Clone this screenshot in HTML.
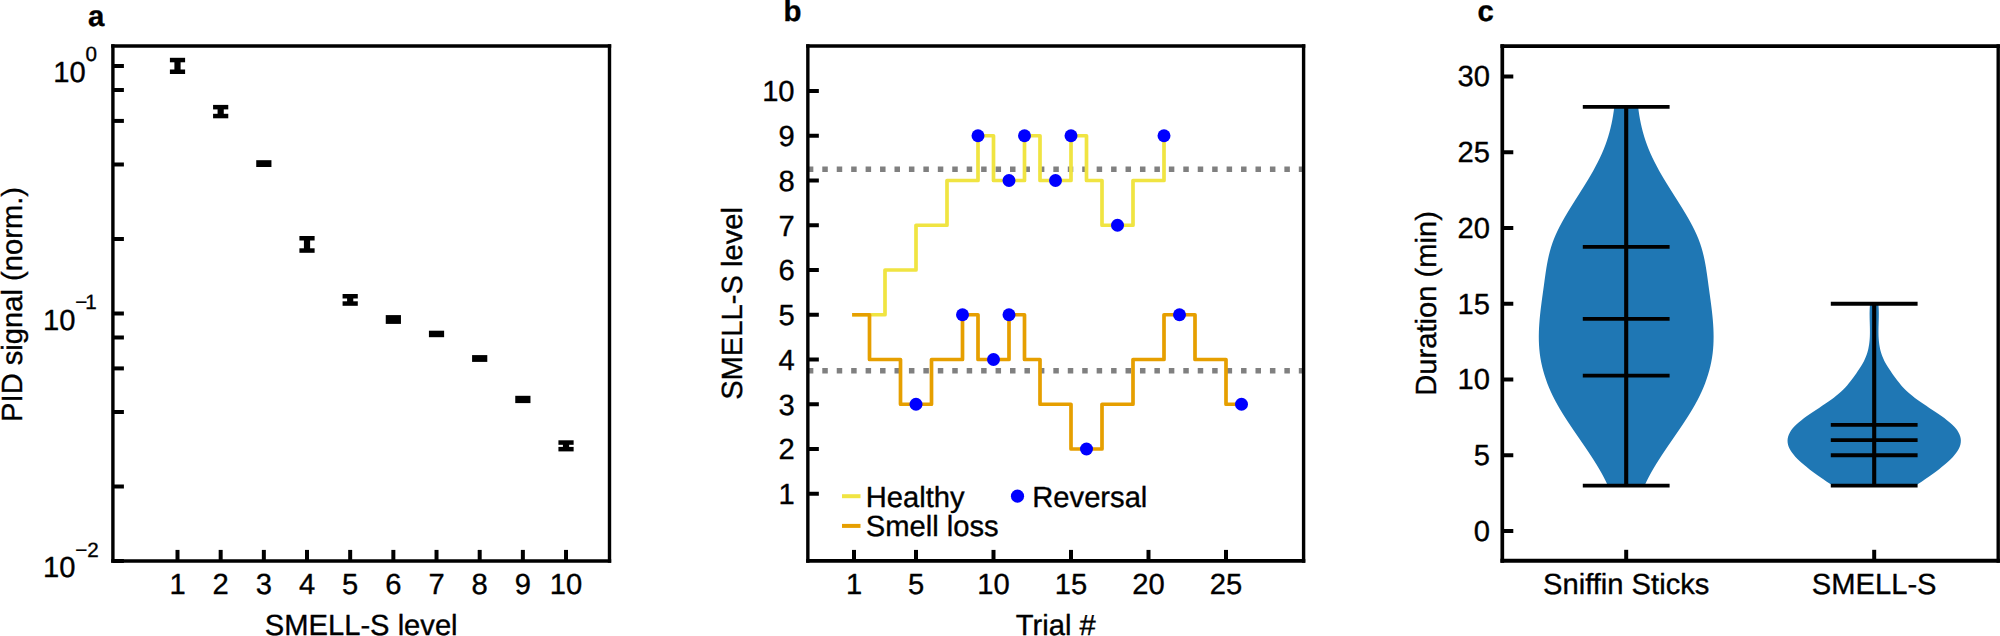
<!DOCTYPE html>
<html lang="en">
<head>
<meta charset="utf-8">
<title>SMELL-S figure</title>
<style>
html,body{margin:0;padding:0;background:#fff;}
body{width:2000px;height:636px;overflow:hidden;}
svg{display:block;}
svg text{font-family:"Liberation Sans",Arial,Helvetica,sans-serif;fill:#000;stroke:#000;stroke-width:0.35px;stroke-linejoin:round;text-rendering:geometricPrecision;}
</style>
</head>
<body>
<svg width="2000" height="636" viewBox="0 0 2000 636">
<rect x="0" y="0" width="2000" height="636" fill="#fff"/>
<g id="panel-a">
<text x="88" y="25.5" font-size="29.4" text-anchor="start" font-weight="bold">a</text>
<line x1="112.9" y1="66" x2="123.9" y2="66" stroke="#000" stroke-width="4"/>
<line x1="112.9" y1="89.99" x2="123.9" y2="89.99" stroke="#000" stroke-width="4"/>
<line x1="112.9" y1="120.91" x2="123.9" y2="120.91" stroke="#000" stroke-width="4"/>
<line x1="112.9" y1="164.49" x2="123.9" y2="164.49" stroke="#000" stroke-width="4"/>
<line x1="112.9" y1="239" x2="123.9" y2="239" stroke="#000" stroke-width="4"/>
<line x1="112.9" y1="313.5" x2="123.9" y2="313.5" stroke="#000" stroke-width="4"/>
<line x1="112.9" y1="337.49" x2="123.9" y2="337.49" stroke="#000" stroke-width="4"/>
<line x1="112.9" y1="368.41" x2="123.9" y2="368.41" stroke="#000" stroke-width="4"/>
<line x1="112.9" y1="411.99" x2="123.9" y2="411.99" stroke="#000" stroke-width="4"/>
<line x1="112.9" y1="486.5" x2="123.9" y2="486.5" stroke="#000" stroke-width="4"/>
<line x1="112.9" y1="561" x2="123.9" y2="561" stroke="#000" stroke-width="4"/>
<line x1="177.5" y1="560.9" x2="177.5" y2="549.9" stroke="#000" stroke-width="4"/>
<text x="177.5" y="594.2" font-size="29.17" text-anchor="middle">1</text>
<line x1="220.67" y1="560.9" x2="220.67" y2="549.9" stroke="#000" stroke-width="4"/>
<text x="220.67" y="594.2" font-size="29.17" text-anchor="middle">2</text>
<line x1="263.84" y1="560.9" x2="263.84" y2="549.9" stroke="#000" stroke-width="4"/>
<text x="263.84" y="594.2" font-size="29.17" text-anchor="middle">3</text>
<line x1="307.01" y1="560.9" x2="307.01" y2="549.9" stroke="#000" stroke-width="4"/>
<text x="307.01" y="594.2" font-size="29.17" text-anchor="middle">4</text>
<line x1="350.18" y1="560.9" x2="350.18" y2="549.9" stroke="#000" stroke-width="4"/>
<text x="350.18" y="594.2" font-size="29.17" text-anchor="middle">5</text>
<line x1="393.35" y1="560.9" x2="393.35" y2="549.9" stroke="#000" stroke-width="4"/>
<text x="393.35" y="594.2" font-size="29.17" text-anchor="middle">6</text>
<line x1="436.52" y1="560.9" x2="436.52" y2="549.9" stroke="#000" stroke-width="4"/>
<text x="436.52" y="594.2" font-size="29.17" text-anchor="middle">7</text>
<line x1="479.69" y1="560.9" x2="479.69" y2="549.9" stroke="#000" stroke-width="4"/>
<text x="479.69" y="594.2" font-size="29.17" text-anchor="middle">8</text>
<line x1="522.86" y1="560.9" x2="522.86" y2="549.9" stroke="#000" stroke-width="4"/>
<text x="522.86" y="594.2" font-size="29.17" text-anchor="middle">9</text>
<line x1="566.03" y1="560.9" x2="566.03" y2="549.9" stroke="#000" stroke-width="4"/>
<text x="566.03" y="594.2" font-size="29.17" text-anchor="middle">10</text>
<line x1="177.5" y1="60.05" x2="177.5" y2="71.75" stroke="#000" stroke-width="6.2"/>
<rect x="169.9" y="57.8" width="15.2" height="4.5" fill="#000"/>
<rect x="169.9" y="69.5" width="15.2" height="4.5" fill="#000"/>
<line x1="220.67" y1="107.15" x2="220.67" y2="116.05" stroke="#000" stroke-width="6.2"/>
<rect x="213.07" y="104.9" width="15.2" height="4.5" fill="#000"/>
<rect x="213.07" y="113.8" width="15.2" height="4.5" fill="#000"/>
<rect x="256.24" y="160.2" width="15.2" height="6.8" fill="#000"/>
<line x1="307.01" y1="238.25" x2="307.01" y2="250.55" stroke="#000" stroke-width="6.2"/>
<rect x="299.41" y="236" width="15.2" height="4.5" fill="#000"/>
<rect x="299.41" y="248.3" width="15.2" height="4.5" fill="#000"/>
<line x1="350.18" y1="296.25" x2="350.18" y2="303.55" stroke="#000" stroke-width="6.2"/>
<rect x="342.58" y="294" width="15.2" height="4.5" fill="#000"/>
<rect x="342.58" y="301.3" width="15.2" height="4.5" fill="#000"/>
<rect x="385.75" y="315.1" width="15.2" height="8.8" fill="#000"/>
<rect x="428.92" y="330.7" width="15.2" height="6.5" fill="#000"/>
<rect x="472.09" y="355.1" width="15.2" height="6.8" fill="#000"/>
<rect x="515.26" y="395.8" width="15.2" height="7.3" fill="#000"/>
<line x1="566.03" y1="442.55" x2="566.03" y2="449.15" stroke="#000" stroke-width="6.2"/>
<rect x="558.43" y="440.3" width="15.2" height="4.5" fill="#000"/>
<rect x="558.43" y="446.9" width="15.2" height="4.5" fill="#000"/>
<line x1="112.9" y1="44.3" x2="112.9" y2="562.65" stroke="#000" stroke-width="3.4"/>
<line x1="609.5" y1="44.3" x2="609.5" y2="562.65" stroke="#000" stroke-width="3.4"/>
<line x1="111.2" y1="46" x2="611.2" y2="46" stroke="#000" stroke-width="3.4"/>
<line x1="111.2" y1="560.9" x2="611.2" y2="560.9" stroke="#000" stroke-width="3.5"/>
<text x="85.7" y="82.1" font-size="29.17" text-anchor="end">10</text>
<text x="85.4" y="61.1" font-size="20.6" text-anchor="start">0</text>
<text x="75.4" y="329.6" font-size="29.17" text-anchor="end">10</text>
<text x="75.2" y="309" font-size="20.6" text-anchor="start">−<tspan dx="-2">1</tspan></text>
<text x="75.4" y="577.1" font-size="29.17" text-anchor="end">10</text>
<text x="75.2" y="556.5" font-size="20.6" text-anchor="start">−<tspan dx="0">2</tspan></text>
<text x="361.2" y="635.4" font-size="29.17" text-anchor="middle">SMELL-S level</text>
<text x="21.9" y="304.45" font-size="29.17" text-anchor="middle" transform="rotate(-90 21.9 304.45)">PID signal (norm.)</text>
</g>
<g id="panel-b">
<text x="783.5" y="21.3" font-size="29.4" text-anchor="start" font-weight="bold">b</text>
<line x1="807.85" y1="493.75" x2="818.85" y2="493.75" stroke="#000" stroke-width="4"/>
<text x="794.6" y="504.05" font-size="29.17" text-anchor="end">1</text>
<line x1="807.85" y1="449" x2="818.85" y2="449" stroke="#000" stroke-width="4"/>
<text x="794.6" y="459.3" font-size="29.17" text-anchor="end">2</text>
<line x1="807.85" y1="404.25" x2="818.85" y2="404.25" stroke="#000" stroke-width="4"/>
<text x="794.6" y="414.55" font-size="29.17" text-anchor="end">3</text>
<line x1="807.85" y1="359.5" x2="818.85" y2="359.5" stroke="#000" stroke-width="4"/>
<text x="794.6" y="369.8" font-size="29.17" text-anchor="end">4</text>
<line x1="807.85" y1="314.75" x2="818.85" y2="314.75" stroke="#000" stroke-width="4"/>
<text x="794.6" y="325.05" font-size="29.17" text-anchor="end">5</text>
<line x1="807.85" y1="270" x2="818.85" y2="270" stroke="#000" stroke-width="4"/>
<text x="794.6" y="280.3" font-size="29.17" text-anchor="end">6</text>
<line x1="807.85" y1="225.25" x2="818.85" y2="225.25" stroke="#000" stroke-width="4"/>
<text x="794.6" y="235.55" font-size="29.17" text-anchor="end">7</text>
<line x1="807.85" y1="180.5" x2="818.85" y2="180.5" stroke="#000" stroke-width="4"/>
<text x="794.6" y="190.8" font-size="29.17" text-anchor="end">8</text>
<line x1="807.85" y1="135.75" x2="818.85" y2="135.75" stroke="#000" stroke-width="4"/>
<text x="794.6" y="146.05" font-size="29.17" text-anchor="end">9</text>
<line x1="807.85" y1="91" x2="818.85" y2="91" stroke="#000" stroke-width="4"/>
<text x="794.6" y="101.3" font-size="29.17" text-anchor="end">10</text>
<line x1="854" y1="560.9" x2="854" y2="549.9" stroke="#000" stroke-width="4"/>
<text x="854" y="594.2" font-size="29.17" text-anchor="middle">1</text>
<line x1="916" y1="560.9" x2="916" y2="549.9" stroke="#000" stroke-width="4"/>
<text x="916" y="594.2" font-size="29.17" text-anchor="middle">5</text>
<line x1="993.5" y1="560.9" x2="993.5" y2="549.9" stroke="#000" stroke-width="4"/>
<text x="993.5" y="594.2" font-size="29.17" text-anchor="middle">10</text>
<line x1="1071" y1="560.9" x2="1071" y2="549.9" stroke="#000" stroke-width="4"/>
<text x="1071" y="594.2" font-size="29.17" text-anchor="middle">15</text>
<line x1="1148.5" y1="560.9" x2="1148.5" y2="549.9" stroke="#000" stroke-width="4"/>
<text x="1148.5" y="594.2" font-size="29.17" text-anchor="middle">20</text>
<line x1="1226" y1="560.9" x2="1226" y2="549.9" stroke="#000" stroke-width="4"/>
<text x="1226" y="594.2" font-size="29.17" text-anchor="middle">25</text>
<line x1="807.85" y1="169.31" x2="1303.6" y2="169.31" stroke="#808080" stroke-width="5.5" stroke-dasharray="5.5 8.94"/>
<line x1="807.85" y1="370.69" x2="1303.6" y2="370.69" stroke="#808080" stroke-width="5.5" stroke-dasharray="5.5 8.94"/>
<path d="M854 314.75 L869.5 314.75 L885 314.75 L885 270 L900.5 270 L916 270 L916 225.25 L931.5 225.25 L947 225.25 L947 180.5 L962.5 180.5 L978 180.5 L978 135.75 L993.5 135.75 L993.5 180.5 L1009 180.5 L1024.5 180.5 L1024.5 135.75 L1040 135.75 L1040 180.5 L1055.5 180.5 L1071 180.5 L1071 135.75 L1086.5 135.75 L1086.5 180.5 L1102 180.5 L1102 225.25 L1117.5 225.25 L1133 225.25 L1133 180.5 L1148.5 180.5 L1164 180.5 L1164 135.75" fill="none" stroke="#F0E442" stroke-width="3.7" stroke-linejoin="round" stroke-linecap="square"/>
<path d="M854 314.75 L869.5 314.75 L869.5 359.5 L885 359.5 L900.5 359.5 L900.5 404.25 L916 404.25 L931.5 404.25 L931.5 359.5 L947 359.5 L962.5 359.5 L962.5 314.75 L978 314.75 L978 359.5 L993.5 359.5 L1009 359.5 L1009 314.75 L1024.5 314.75 L1024.5 359.5 L1040 359.5 L1040 404.25 L1055.5 404.25 L1071 404.25 L1071 449 L1086.5 449 L1102 449 L1102 404.25 L1117.5 404.25 L1133 404.25 L1133 359.5 L1148.5 359.5 L1164 359.5 L1164 314.75 L1179.5 314.75 L1195 314.75 L1195 359.5 L1210.5 359.5 L1226 359.5 L1226 404.25 L1241.5 404.25" fill="none" stroke="#E69F00" stroke-width="3.7" stroke-linejoin="round" stroke-linecap="square"/>
<circle cx="978" cy="135.75" r="6.5" fill="#0000FF"/>
<circle cx="1009" cy="180.5" r="6.5" fill="#0000FF"/>
<circle cx="1024.5" cy="135.75" r="6.5" fill="#0000FF"/>
<circle cx="1055.5" cy="180.5" r="6.5" fill="#0000FF"/>
<circle cx="1071" cy="135.75" r="6.5" fill="#0000FF"/>
<circle cx="1117.5" cy="225.25" r="6.5" fill="#0000FF"/>
<circle cx="1164" cy="135.75" r="6.5" fill="#0000FF"/>
<circle cx="916" cy="404.25" r="6.5" fill="#0000FF"/>
<circle cx="962.5" cy="314.75" r="6.5" fill="#0000FF"/>
<circle cx="993.5" cy="359.5" r="6.5" fill="#0000FF"/>
<circle cx="1009" cy="314.75" r="6.5" fill="#0000FF"/>
<circle cx="1086.5" cy="449" r="6.5" fill="#0000FF"/>
<circle cx="1179.5" cy="314.75" r="6.5" fill="#0000FF"/>
<circle cx="1241.5" cy="404.25" r="6.5" fill="#0000FF"/>
<line x1="842" y1="496.2" x2="860.5" y2="496.2" stroke="#F0E442" stroke-width="4"/>
<text x="865.7" y="507" font-size="29.17" text-anchor="start">Healthy</text>
<line x1="842" y1="525.9" x2="860.5" y2="525.9" stroke="#E69F00" stroke-width="4"/>
<text x="865.8" y="536.4" font-size="29.17" text-anchor="start">Smell loss</text>
<circle cx="1017.5" cy="496.2" r="6.6" fill="#0000FF"/>
<text x="1032.3" y="507" font-size="29.17" text-anchor="start">Reversal</text>
<line x1="807.85" y1="44.3" x2="807.85" y2="562.85" stroke="#000" stroke-width="3.4"/>
<line x1="1303.6" y1="44.3" x2="1303.6" y2="562.85" stroke="#000" stroke-width="3.4"/>
<line x1="806.15" y1="46" x2="1305.3" y2="46" stroke="#000" stroke-width="3.4"/>
<line x1="806.15" y1="560.9" x2="1305.3" y2="560.9" stroke="#000" stroke-width="3.9"/>
<text x="1055.72" y="635.4" font-size="29.17" text-anchor="middle">Trial #</text>
<text x="742.5" y="303.45" font-size="29.17" text-anchor="middle" transform="rotate(-90 742.5 303.45)">SMELL-S level</text>
</g>
<g id="panel-c">
<text x="1477.5" y="20.8" font-size="29.4" text-anchor="start" font-weight="bold">c</text>
<path d="M1614.29 106.8 L1613.75 111.06 L1613.12 115.31 L1612.38 119.57 L1611.52 123.82 L1610.55 128.08 L1609.45 132.33 L1608.23 136.59 L1606.86 140.84 L1605.36 145.1 L1603.71 149.35 L1601.91 153.61 L1599.95 157.86 L1597.85 162.12 L1595.61 166.37 L1593.26 170.63 L1590.81 174.88 L1588.29 179.14 L1585.69 183.39 L1583.05 187.65 L1580.37 191.9 L1577.68 196.16 L1574.99 200.41 L1572.32 204.67 L1569.68 208.92 L1567.11 213.18 L1564.61 217.43 L1562.22 221.69 L1559.94 225.94 L1557.81 230.2 L1555.83 234.45 L1554.03 238.71 L1552.44 242.96 L1551.04 247.22 L1549.83 251.47 L1548.76 255.73 L1547.84 259.98 L1547.02 264.24 L1546.3 268.49 L1545.65 272.75 L1545.04 277 L1544.46 281.26 L1543.89 285.51 L1543.3 289.77 L1542.71 294.02 L1542.12 298.28 L1541.55 302.53 L1541 306.79 L1540.49 311.04 L1540.03 315.3 L1539.62 319.55 L1539.29 323.81 L1539.03 328.06 L1538.87 332.32 L1538.8 336.57 L1538.85 340.83 L1539.02 345.08 L1539.33 349.34 L1539.77 353.59 L1540.37 357.85 L1541.14 362.1 L1542.06 366.36 L1543.15 370.61 L1544.39 374.87 L1545.79 379.12 L1547.35 383.38 L1549.06 387.63 L1550.93 391.89 L1552.94 396.14 L1555.11 400.4 L1557.43 404.65 L1559.88 408.91 L1562.45 413.16 L1565.12 417.42 L1567.88 421.67 L1570.71 425.93 L1573.58 430.18 L1576.49 434.44 L1579.42 438.69 L1582.34 442.95 L1585.25 447.2 L1588.12 451.46 L1590.94 455.71 L1593.69 459.97 L1596.35 464.22 L1598.91 468.48 L1601.35 472.73 L1603.65 476.99 L1605.8 481.24 L1607.77 485.5 L1644.63 485.5 L1646.6 481.24 L1648.75 476.99 L1651.05 472.73 L1653.49 468.48 L1656.05 464.22 L1658.71 459.97 L1661.46 455.71 L1664.28 451.46 L1667.15 447.2 L1670.06 442.95 L1672.98 438.69 L1675.91 434.44 L1678.82 430.18 L1681.69 425.93 L1684.52 421.67 L1687.28 417.42 L1689.95 413.16 L1692.52 408.91 L1694.97 404.65 L1697.29 400.4 L1699.46 396.14 L1701.47 391.89 L1703.34 387.63 L1705.05 383.38 L1706.61 379.12 L1708.01 374.87 L1709.25 370.61 L1710.34 366.36 L1711.26 362.1 L1712.03 357.85 L1712.63 353.59 L1713.07 349.34 L1713.38 345.08 L1713.55 340.83 L1713.6 336.57 L1713.53 332.32 L1713.37 328.06 L1713.11 323.81 L1712.78 319.55 L1712.37 315.3 L1711.91 311.04 L1711.4 306.79 L1710.85 302.53 L1710.28 298.28 L1709.69 294.02 L1709.1 289.77 L1708.51 285.51 L1707.94 281.26 L1707.36 277 L1706.75 272.75 L1706.1 268.49 L1705.38 264.24 L1704.56 259.98 L1703.64 255.73 L1702.57 251.47 L1701.36 247.22 L1699.96 242.96 L1698.37 238.71 L1696.57 234.45 L1694.59 230.2 L1692.46 225.94 L1690.18 221.69 L1687.79 217.43 L1685.29 213.18 L1682.72 208.92 L1680.08 204.67 L1677.41 200.41 L1674.72 196.16 L1672.03 191.9 L1669.35 187.65 L1666.71 183.39 L1664.11 179.14 L1661.59 174.88 L1659.14 170.63 L1656.79 166.37 L1654.55 162.12 L1652.45 157.86 L1650.49 153.61 L1648.69 149.35 L1647.04 145.1 L1645.54 140.84 L1644.17 136.59 L1642.95 132.33 L1641.85 128.08 L1640.88 123.82 L1640.02 119.57 L1639.28 115.31 L1638.65 111.06 L1638.11 106.8Z" fill="#1F77B4"/>
<path d="M1870.07 303.7 L1869.88 305.74 L1869.75 307.79 L1869.66 309.83 L1869.61 311.87 L1869.59 313.91 L1869.61 315.96 L1869.64 318 L1869.68 320.04 L1869.74 322.08 L1869.79 324.13 L1869.85 326.17 L1869.89 328.21 L1869.91 330.26 L1869.92 332.3 L1869.89 334.34 L1869.83 336.38 L1869.72 338.43 L1869.57 340.47 L1869.36 342.51 L1869.1 344.55 L1868.76 346.6 L1868.35 348.64 L1867.87 350.68 L1867.3 352.72 L1866.63 354.77 L1865.87 356.81 L1865 358.85 L1864.03 360.9 L1862.94 362.94 L1861.77 364.98 L1860.52 367.02 L1859.2 369.07 L1857.82 371.11 L1856.41 373.15 L1854.98 375.19 L1853.52 377.24 L1852.02 379.28 L1850.46 381.32 L1848.83 383.37 L1847.11 385.41 L1845.29 387.45 L1843.33 389.49 L1841.21 391.54 L1838.92 393.58 L1836.45 395.62 L1833.81 397.66 L1831.04 399.71 L1828.15 401.75 L1825.17 403.79 L1822.13 405.83 L1819.05 407.88 L1815.96 409.92 L1812.9 411.96 L1809.89 414.01 L1806.96 416.05 L1804.14 418.09 L1801.46 420.13 L1798.95 422.18 L1796.63 424.22 L1794.55 426.26 L1792.72 428.3 L1791.17 430.35 L1789.89 432.39 L1788.89 434.43 L1788.16 436.48 L1787.71 438.52 L1787.54 440.56 L1787.64 442.6 L1788.02 444.65 L1788.67 446.69 L1789.59 448.73 L1790.75 450.77 L1792.13 452.82 L1793.72 454.86 L1795.51 456.9 L1797.47 458.94 L1799.59 460.99 L1801.85 463.03 L1804.24 465.07 L1806.73 467.12 L1809.31 469.16 L1811.96 471.2 L1814.69 473.24 L1817.49 475.29 L1820.38 477.33 L1823.35 479.37 L1826.42 481.41 L1829.58 483.46 L1832.85 485.5 L1915.55 485.5 L1918.82 483.46 L1921.98 481.41 L1925.05 479.37 L1928.02 477.33 L1930.91 475.29 L1933.71 473.24 L1936.44 471.2 L1939.09 469.16 L1941.67 467.12 L1944.16 465.07 L1946.55 463.03 L1948.81 460.99 L1950.93 458.94 L1952.89 456.9 L1954.68 454.86 L1956.27 452.82 L1957.65 450.77 L1958.81 448.73 L1959.73 446.69 L1960.38 444.65 L1960.76 442.6 L1960.86 440.56 L1960.69 438.52 L1960.24 436.48 L1959.51 434.43 L1958.51 432.39 L1957.23 430.35 L1955.68 428.3 L1953.85 426.26 L1951.77 424.22 L1949.45 422.18 L1946.94 420.13 L1944.26 418.09 L1941.44 416.05 L1938.51 414.01 L1935.5 411.96 L1932.44 409.92 L1929.35 407.88 L1926.27 405.83 L1923.23 403.79 L1920.25 401.75 L1917.36 399.71 L1914.59 397.66 L1911.95 395.62 L1909.48 393.58 L1907.19 391.54 L1905.07 389.49 L1903.11 387.45 L1901.29 385.41 L1899.57 383.37 L1897.94 381.32 L1896.38 379.28 L1894.88 377.24 L1893.42 375.19 L1891.99 373.15 L1890.58 371.11 L1889.2 369.07 L1887.88 367.02 L1886.63 364.98 L1885.46 362.94 L1884.37 360.9 L1883.4 358.85 L1882.53 356.81 L1881.77 354.77 L1881.1 352.72 L1880.53 350.68 L1880.05 348.64 L1879.64 346.6 L1879.3 344.55 L1879.04 342.51 L1878.83 340.47 L1878.68 338.43 L1878.57 336.38 L1878.51 334.34 L1878.48 332.3 L1878.49 330.26 L1878.51 328.21 L1878.55 326.17 L1878.61 324.13 L1878.66 322.08 L1878.72 320.04 L1878.76 318 L1878.79 315.96 L1878.81 313.91 L1878.79 311.87 L1878.74 309.83 L1878.65 307.79 L1878.52 305.74 L1878.33 303.7Z" fill="#1F77B4"/>
<line x1="1626.2" y1="485.55" x2="1626.2" y2="106.8" stroke="#000" stroke-width="4.1"/>
<line x1="1582.8" y1="485.55" x2="1669.6" y2="485.55" stroke="#000" stroke-width="3.8"/>
<line x1="1582.8" y1="375.71" x2="1669.6" y2="375.71" stroke="#000" stroke-width="3.8"/>
<line x1="1582.8" y1="318.9" x2="1669.6" y2="318.9" stroke="#000" stroke-width="3.8"/>
<line x1="1582.8" y1="246.94" x2="1669.6" y2="246.94" stroke="#000" stroke-width="3.8"/>
<line x1="1582.8" y1="106.8" x2="1669.6" y2="106.8" stroke="#000" stroke-width="3.8"/>
<line x1="1874.2" y1="485.55" x2="1874.2" y2="303.75" stroke="#000" stroke-width="4.1"/>
<line x1="1830.8" y1="485.55" x2="1917.6" y2="485.55" stroke="#000" stroke-width="3.8"/>
<line x1="1830.8" y1="455.25" x2="1917.6" y2="455.25" stroke="#000" stroke-width="3.8"/>
<line x1="1830.8" y1="440.1" x2="1917.6" y2="440.1" stroke="#000" stroke-width="3.8"/>
<line x1="1830.8" y1="424.95" x2="1917.6" y2="424.95" stroke="#000" stroke-width="3.8"/>
<line x1="1830.8" y1="303.75" x2="1917.6" y2="303.75" stroke="#000" stroke-width="3.8"/>
<line x1="1502.3" y1="531" x2="1513.3" y2="531" stroke="#000" stroke-width="4"/>
<text x="1489.9" y="540.8" font-size="29.17" text-anchor="end">0</text>
<line x1="1502.3" y1="455.25" x2="1513.3" y2="455.25" stroke="#000" stroke-width="4"/>
<text x="1489.9" y="465.05" font-size="29.17" text-anchor="end">5</text>
<line x1="1502.3" y1="379.5" x2="1513.3" y2="379.5" stroke="#000" stroke-width="4"/>
<text x="1489.9" y="389.3" font-size="29.17" text-anchor="end">10</text>
<line x1="1502.3" y1="303.75" x2="1513.3" y2="303.75" stroke="#000" stroke-width="4"/>
<text x="1489.9" y="313.55" font-size="29.17" text-anchor="end">15</text>
<line x1="1502.3" y1="228" x2="1513.3" y2="228" stroke="#000" stroke-width="4"/>
<text x="1489.9" y="237.8" font-size="29.17" text-anchor="end">20</text>
<line x1="1502.3" y1="152.25" x2="1513.3" y2="152.25" stroke="#000" stroke-width="4"/>
<text x="1489.9" y="162.05" font-size="29.17" text-anchor="end">25</text>
<line x1="1502.3" y1="76.5" x2="1513.3" y2="76.5" stroke="#000" stroke-width="4"/>
<text x="1489.9" y="86.3" font-size="29.17" text-anchor="end">30</text>
<line x1="1626.2" y1="560.8" x2="1626.2" y2="549.8" stroke="#000" stroke-width="4"/>
<text x="1626.2" y="594.2" font-size="29.17" text-anchor="middle">Sniffin Sticks</text>
<line x1="1874.2" y1="560.8" x2="1874.2" y2="549.8" stroke="#000" stroke-width="4"/>
<text x="1874.2" y="594.2" font-size="29.17" text-anchor="middle">SMELL-S</text>
<line x1="1502.3" y1="44.3" x2="1502.3" y2="562.75" stroke="#000" stroke-width="3.7"/>
<line x1="1998.2" y1="44.3" x2="1998.2" y2="562.75" stroke="#000" stroke-width="3.4"/>
<line x1="1500.45" y1="46.1" x2="1999.9" y2="46.1" stroke="#000" stroke-width="3.6"/>
<line x1="1500.45" y1="560.8" x2="1999.9" y2="560.8" stroke="#000" stroke-width="3.9"/>
<text x="1436.5" y="303.45" font-size="29.17" text-anchor="middle" transform="rotate(-90 1436.5 303.45)">Duration (min)</text>
</g>
</svg>
</body>
</html>
